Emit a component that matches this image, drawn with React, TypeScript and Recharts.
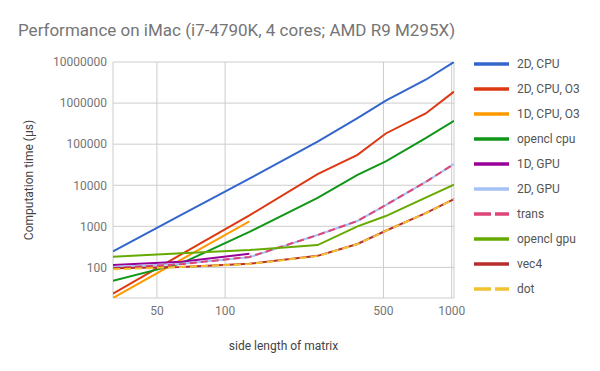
import React from 'react';
import { LineChart, Line, XAxis, YAxis, CartesianGrid, Label } from 'recharts';

// matrix side lengths
const sizes = [32, 64, 128, 256, 384, 512, 768, 1024];

// computation time in µs, one array per series
const cpu2d = [245, 1900, 14500, 115000, 430000, 1150000, 3700000, 10000000];
const cpu2dO3 = [23, 208, 1850, 18600, 55000, 182000, 560000, 1900000];
const cpu1dO3 = [18, 155, 1320, null, null, null, null, null];
const openclCpu = [47, 125, 730, 4900, 17800, 38000, 141000, 371000];
const gpu1d = [114, 137, 215, null, null, null, null, null];
const gpu2d = [103, 122, 176, 615, 1350, 3300, 12000, 33000];
const trans = [96, 120, 180, 615, 1350, 3300, 12000, 33000];
const openclGpu = [181, 220, 265, 350, 1000, 1780, 5000, 10300];
const vec4 = [95, 103, 122, 191, 372, 780, 2100, 4600];
const dot = [90, 102, 121, 189, 368, 775, 2080, 4550];

const xTicks = [50, 100, 500, 1000];
const yTicks = [100, 1000, 10000, 100000, 1000000, 10000000];

const series = [
    { key: 'cpu2d', name: '2D, CPU', values: cpu2d, color: '#3366cc', dash: undefined },
    { key: 'cpu2dO3', name: '2D, CPU, O3', values: cpu2dO3, color: '#dc3912', dash: undefined },
    { key: 'cpu1dO3', name: '1D, CPU, O3', values: cpu1dO3, color: '#ff9900', dash: undefined },
    { key: 'openclCpu', name: 'opencl cpu', values: openclCpu, color: '#109618', dash: undefined },
    { key: 'gpu1d', name: '1D, GPU', values: gpu1d, color: '#990099', dash: undefined },
    { key: 'gpu2d', name: '2D, GPU', values: gpu2d, color: '#a4c2f4', dash: undefined },
    { key: 'trans', name: 'trans', values: trans, color: '#dd4477', dash: '7 4' },
    { key: 'openclGpu', name: 'opencl gpu', values: openclGpu, color: '#66aa00', dash: undefined },
    { key: 'vec4', name: 'vec4', values: vec4, color: '#b82e2e', dash: undefined },
    { key: 'dot', name: 'dot', values: dot, color: '#f1c232', dash: '7 4' },
];

const data = sizes.map((n, i) => {
    const row: Record<string, number | null> = { n };
    series.forEach(s => {
        row[s.key] = s.values[i];
    });
    return row;
});

const font = 'Roboto, Arial, sans-serif';

const ChartLegend = () => (
    <div style={{ position: 'absolute', left: 474, top: 51, fontFamily: font, fontSize: 12, color: '#555' }}>
        {series.map(s => (
            <div key={s.key} style={{ display: 'flex', alignItems: 'center', height: 25 }}>
                <svg width={36} height={6} style={{ display: 'block' }}>
                    <line x1={0} y1={3} x2={35} y2={3} stroke={s.color} strokeWidth={3.5} strokeDasharray={s.dash ? '17 4' : undefined} />
                </svg>
                <span style={{ marginLeft: 7 }}>{s.name}</span>
            </div>
        ))}
    </div>
);

export default function App() {
    return (
        <div style={{ position: 'absolute', left: 0, top: 0, width: 600, height: 371, background: '#fff' }}>
            <div style={{ position: 'absolute', left: 18, top: 20, fontFamily: font, fontSize: 17, color: '#757575' }}>
                Performance on iMac (i7-4790K, 4 cores; AMD R9 M295X)
            </div>
            <LineChart width={600} height={371} data={data} margin={{ top: 62, right: 146, bottom: 0, left: 0 }}>
                <CartesianGrid stroke="#cccccc" />
                <XAxis
                    dataKey="n"
                    type="number"
                    scale="log"
                    domain={[32, 1024]}
                    allowDataOverflow
                    ticks={xTicks}
                    axisLine={false}
                    tickLine={false}
                    tickSize={0}
                    tickMargin={8}
                    height={73}
                    tick={{ fill: '#757575', fontSize: 12, fontFamily: font }}
                >
                    <Label value="side length of matrix" position="insideBottom" offset={21} style={{ fill: '#444', fontSize: 12, fontFamily: font }} />
                </XAxis>
                <YAxis
                    type="number"
                    scale="log"
                    domain={[18, 10000000]}
                    allowDataOverflow
                    ticks={yTicks}
                    tickFormatter={(v: number) => String(v)}
                    axisLine={false}
                    tickLine={false}
                    tickSize={0}
                    tickMargin={6}
                    width={113}
                    tick={{ fill: '#757575', fontSize: 12, fontFamily: font }}
                >
                    <Label value="Computation time (µs)" angle={-90} position="insideLeft" offset={29} style={{ fill: '#444', fontSize: 12, fontFamily: font, textAnchor: 'middle' }} />
                </YAxis>
                {series.map(s => (
                    <Line
                        key={s.key}
                        dataKey={s.key}
                        name={s.name}
                        type="linear"
                        stroke={s.color}
                        strokeWidth={2}
                        strokeDasharray={s.dash}
                        dot={false}
                        activeDot={false}
                        isAnimationActive={false}
                    />
                ))}
            </LineChart>
            <ChartLegend />
        </div>
    );
}
